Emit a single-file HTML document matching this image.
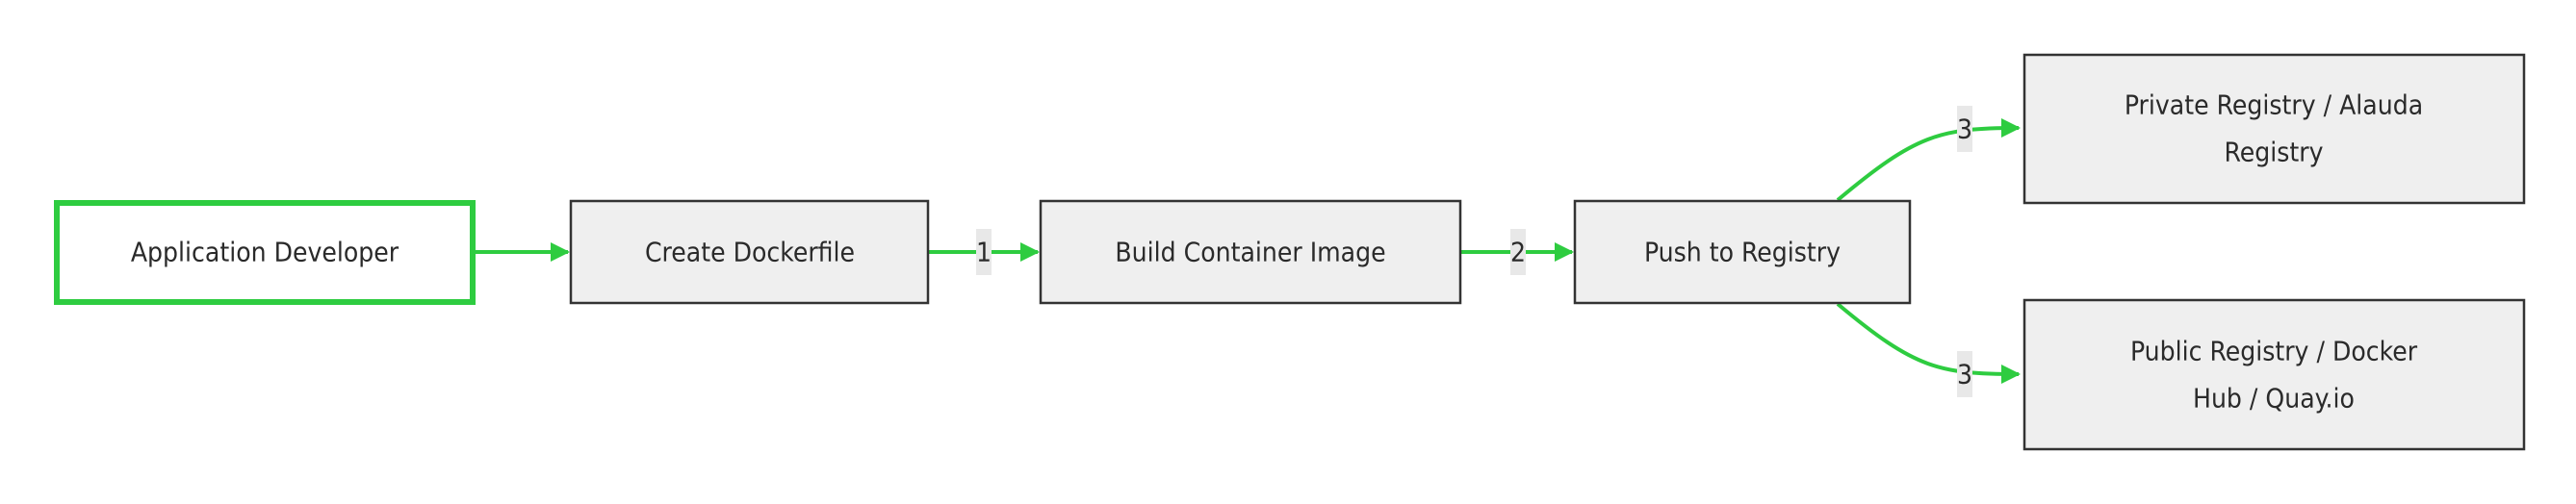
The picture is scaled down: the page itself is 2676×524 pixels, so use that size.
<!DOCTYPE html>
<html><head><meta charset="utf-8"><style>
html,body{margin:0;padding:0;background:#fff;}
svg{display:block;}
text{font-family:"DejaVu Sans Condensed","Liberation Sans",sans-serif;font-size:28px;fill:#2a2a2a;}
</style></head><body>
<svg width="2676" height="524" viewBox="0 0 2676 524" xmlns="http://www.w3.org/2000/svg">
<defs>
<marker id="a" viewBox="0 0 10 10" refX="9" refY="5" markerWidth="5" markerHeight="5" markerUnits="strokeWidth" orient="auto">
<path d="M0,0 L10,5 L0,10 z" fill="#2ecc40"/></marker>
</defs>
<g fill="none" stroke="#2ecc40" stroke-width="4">
<path d="M493,262 L590,262" marker-end="url(#a)"/>
<path d="M964,262 L1078,262" marker-end="url(#a)"/>
<path d="M1517,262 L1633,262" marker-end="url(#a)"/>
<path d="M1909,208 C1990,140 2015,133 2097,133" marker-end="url(#a)"/>
<path d="M1909,316 C1990,384 2015,389 2097,389" marker-end="url(#a)"/>
</g>
<rect x="59" y="211" width="432" height="103" fill="#fff" stroke="#2ecc40" stroke-width="6"/>
<rect x="593" y="209" width="371" height="106" fill="#efefef" stroke="#333" stroke-width="2.5"/>
<rect x="1081" y="209" width="436" height="106" fill="#efefef" stroke="#333" stroke-width="2.5"/>
<rect x="1636" y="209" width="348" height="106" fill="#efefef" stroke="#333" stroke-width="2.5"/>
<rect x="2103" y="57" width="519" height="154" fill="#efefef" stroke="#333" stroke-width="2.5"/>
<rect x="2103" y="312" width="519" height="155" fill="#efefef" stroke="#333" stroke-width="2.5"/>
<g fill="#e8e8e8">
<rect x="1014" y="238" width="16" height="48"/>
<rect x="1569" y="238" width="16" height="48"/>
<rect x="2033" y="110" width="16" height="48"/>
<rect x="2033" y="365" width="16" height="48"/>
</g>
<g text-anchor="middle" dominant-baseline="central">
<text x="275" y="262">Application Developer</text>
<text x="779" y="262">Create Dockerfile</text>
<text x="1299" y="262">Build Container Image</text>
<text x="1810" y="262">Push to Registry</text>
<text x="2362" y="109">Private Registry / Alauda</text>
<text x="2362" y="158">Registry</text>
<text x="2362" y="365">Public Registry / Docker</text>
<text x="2362" y="414">Hub / Quay.io</text>
<text x="1022" y="262">1</text>
<text x="1577" y="262">2</text>
<text x="2041" y="134">3</text>
<text x="2041" y="389">3</text>
</g>
</svg>
</body></html>
